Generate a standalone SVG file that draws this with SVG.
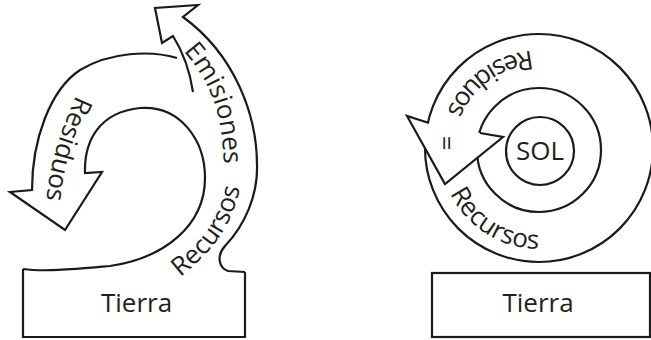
<svg xmlns="http://www.w3.org/2000/svg" xmlns:xlink="http://www.w3.org/1999/xlink" width="651" height="340" viewBox="0 0 651 340">
<style>
.ln{fill:none;stroke:#1a1a1a;stroke-width:2.2;stroke-linejoin:miter;stroke-linecap:butt}
.wf{fill:#fff;stroke:#1a1a1a;stroke-width:2.2;stroke-linejoin:miter}
.t{font-family:"Open Sans","Noto Sans","DejaVu Sans",sans-serif;font-size:26px;fill:#231f20}
</style>
<defs>
<path id="pResL" d="M84,78 C70,110 50,150 46,205"/>
<path id="pEmi" d="M178,45 C210,80 224,110 224,180"/>
<path id="pRecL" d="M170,285 C200,262 238,232 242,170"/>
<path id="pResR" d="M573.9,57 A99,99 0 0 0 440,150"/>
<path id="pRecR" d="M440,150 A99,99 0 0 0 588.5,235.7"/>
</defs>
<rect width="651" height="340" fill="#fff"/>

<g id="left-cycle">
  <path class="ln" d="M245,272 L228,271 C219,268 216,256 225,246 C245,225 258,195 257,165 C257,115 235,55 183,17 L198,5 L155,8 L162,43 L173,36 C183,52 190,72 193,92"/>
  <path class="ln" d="M177,58 C150,50 110,52 80,70 C50,90 32,140 32,190 L10,192 L65,230 L102,172 L85,173 C84,140 100,112 140,108 C180,105 205,140 205,178 C205,225 165,258 110,266 C75,269 45,272 23,269"/>
  <text class="t"><textPath xlink:href="#pResL" href="#pResL" startOffset="19">Residuos</textPath></text>
  <text class="t"><textPath xlink:href="#pEmi" href="#pEmi" startOffset="8">Emisiones</textPath></text>
  <text class="t"><textPath xlink:href="#pRecL" href="#pRecL" startOffset="13">Recursos</textPath></text>
</g>
<g id="left-tierra">
  <path class="ln" d="M23,269 L23,337 L245,337 L245,272"/>
  <text class="t" x="136.5" y="312" text-anchor="middle">Tierra</text>
</g>

<g id="right-cycle">
  <circle class="ln" cx="539" cy="148" r="114"/>
  <circle class="ln" cx="539" cy="150" r="62"/>
  <path class="wf" d="M429,123 L407,116 L445,184 L503,137 L480,133"/>
  <text class="t" font-size="20" text-anchor="middle" transform="translate(449,143) rotate(-90)" y="7">=</text>
  <text class="t"><textPath xlink:href="#pResR" href="#pResR" startOffset="98" text-anchor="middle">Residuos</textPath></text>
  <text class="t"><textPath xlink:href="#pRecR" href="#pRecR" startOffset="100" text-anchor="middle">Recursos</textPath></text>
</g>
<g id="sol">
  <circle class="ln" cx="540" cy="151" r="34"/>
  <text class="t" x="540" y="160" text-anchor="middle">SOL</text>
</g>
<g id="right-tierra">
  <rect class="ln" x="432" y="273" width="218" height="64"/>
  <text class="t" x="538" y="312" text-anchor="middle">Tierra</text>
</g>
</svg>
